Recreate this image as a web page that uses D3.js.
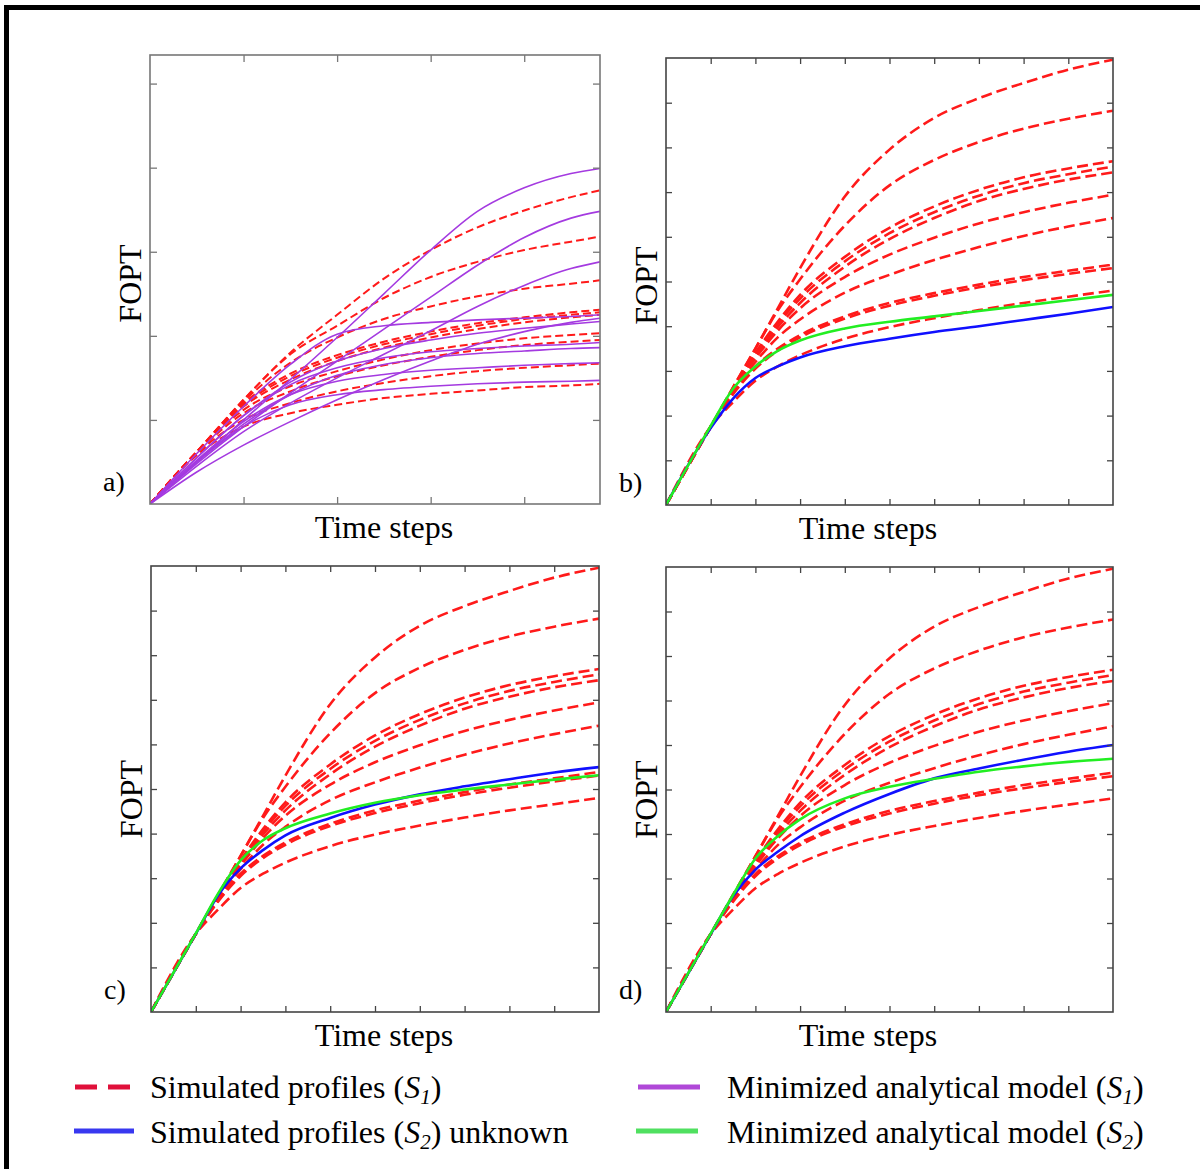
<!DOCTYPE html>
<html><head><meta charset="utf-8">
<script src="https://cdn.jsdelivr.net/npm/d3@7"></script>
<style>
body{margin:0;background:#fff}
svg{display:block}
text{font-family:"Liberation Serif","Times New Roman",serif;fill:#000}
</style>
</head><body>
<svg id="chart" width="1200" height="1169"></svg>
<script>
// ---------- DATA ----------
// Panel a: time samples (tick units) and FOPT values
const timeA = [0, 0.5, 1, 1.5, 2, 2.5, 3, 3.5, 4, 4.5, 4.81];
const simulatedA = [
  [0, 0.62, 1.24, 1.80, 2.25, 2.68, 3.02, 3.29, 3.49, 3.65, 3.73],
  [0, 0.62, 1.24, 1.78, 2.12, 2.45, 2.70, 2.88, 3.02, 3.12, 3.18],
  [0, 0.62, 1.22, 1.68, 1.98, 2.20, 2.35, 2.47, 2.56, 2.62, 2.66],
  [0, 0.62, 1.20, 1.55, 1.77, 1.93, 2.05, 2.15, 2.22, 2.28, 2.31],
  [0, 0.62, 1.18, 1.52, 1.74, 1.90, 2.02, 2.12, 2.20, 2.25, 2.28],
  [0, 0.62, 1.16, 1.48, 1.70, 1.86, 1.98, 2.08, 2.16, 2.22, 2.25],
  [0, 0.62, 1.12, 1.40, 1.58, 1.72, 1.83, 1.91, 1.97, 2.01, 2.03],
  [0, 0.61, 1.08, 1.34, 1.52, 1.65, 1.75, 1.83, 1.89, 1.93, 1.95],
  [0, 0.60, 1.00, 1.20, 1.34, 1.44, 1.52, 1.58, 1.62, 1.65, 1.67],
  [0, 0.58, 0.92, 1.08, 1.18, 1.26, 1.31, 1.35, 1.39, 1.41, 1.43]
];
const minimizedA = [
  [0, 0.50, 1.00, 1.48, 1.98, 2.50, 3.02, 3.48, 3.76, 3.93, 3.99],
  [0, 0.48, 0.92, 1.32, 1.70, 2.08, 2.46, 2.84, 3.17, 3.40, 3.48],
  [0, 0.45, 0.86, 1.20, 1.50, 1.78, 2.06, 2.35, 2.60, 2.80, 2.88],
  [0, 0.60, 1.16, 1.66, 2.02, 2.12, 2.16, 2.19, 2.21, 2.23, 2.25],
  [0, 0.38, 0.70, 0.98, 1.24, 1.48, 1.70, 1.90, 2.05, 2.16, 2.21],
  [0, 0.55, 1.05, 1.45, 1.70, 1.85, 1.95, 2.03, 2.09, 2.14, 2.17],
  [0, 0.55, 1.05, 1.42, 1.62, 1.74, 1.81, 1.85, 1.88, 1.90, 1.92],
  [0, 0.50, 0.95, 1.30, 1.53, 1.66, 1.74, 1.79, 1.82, 1.85, 1.86],
  [0, 0.52, 0.98, 1.30, 1.46, 1.54, 1.59, 1.62, 1.65, 1.67, 1.68],
  [0, 0.50, 0.92, 1.18, 1.30, 1.36, 1.40, 1.43, 1.45, 1.46, 1.47]
];
// Panels b, c, d: time samples and FOPT values
const timeS = [0, 1, 1.5, 2, 2.5, 3, 4, 5, 6, 7, 8, 9, 10];
const simulatedS1 = [
  [0, 1.75, 2.63, 3.50, 4.40, 5.30, 6.90, 7.95, 8.66, 9.10, 9.44, 9.74, 9.96],
  [0, 1.75, 2.63, 3.50, 4.35, 5.05, 6.25, 7.15, 7.72, 8.12, 8.42, 8.64, 8.82],
  [0, 1.75, 2.60, 3.40, 4.10, 4.70, 5.55, 6.20, 6.68, 7.05, 7.33, 7.53, 7.69],
  [0, 1.75, 2.60, 3.38, 4.05, 4.62, 5.45, 6.08, 6.55, 6.92, 7.20, 7.40, 7.57],
  [0, 1.75, 2.58, 3.33, 3.98, 4.52, 5.33, 5.95, 6.42, 6.80, 7.07, 7.28, 7.44],
  [0, 1.75, 2.57, 3.28, 3.90, 4.40, 5.10, 5.60, 5.98, 6.30, 6.55, 6.76, 6.94],
  [0, 1.75, 2.55, 3.20, 3.75, 4.15, 4.75, 5.15, 5.48, 5.77, 6.02, 6.23, 6.42],
  [0, 1.75, 2.50, 3.10, 3.50, 3.80, 4.22, 4.52, 4.74, 4.93, 5.10, 5.24, 5.38],
  [0, 1.75, 2.48, 3.05, 3.45, 3.75, 4.17, 4.46, 4.68, 4.87, 5.03, 5.17, 5.30],
  [0, 1.75, 2.30, 2.78, 3.10, 3.35, 3.72, 3.98, 4.18, 4.36, 4.52, 4.66, 4.80]
];
const unknownB = [0, 1.72, 2.38, 2.84, 3.10, 3.30, 3.55, 3.72, 3.87, 4.00, 4.14, 4.28, 4.43];
const modelB   = [0, 1.77, 2.60, 3.10, 3.45, 3.68, 3.95, 4.10, 4.22, 4.34, 4.46, 4.58, 4.70];
const unknownC = [0, 1.75, 2.62, 3.22, 3.63, 3.96, 4.35, 4.65, 4.88, 5.06, 5.22, 5.37, 5.49];
const modelC   = [0, 1.76, 2.66, 3.40, 3.85, 4.12, 4.45, 4.69, 4.86, 4.99, 5.10, 5.21, 5.31];
const unknownD = [0, 1.75, 2.60, 3.20, 3.60, 3.95, 4.48, 4.90, 5.25, 5.47, 5.67, 5.85, 6.00];
const modelD   = [0, 1.76, 2.63, 3.45, 3.95, 4.33, 4.80, 5.06, 5.24, 5.40, 5.52, 5.62, 5.69];
// tick values
const ticksAx = [1, 2, 3, 4];
const ticksAy = [1, 2, 3, 4, 5];
const ticksS  = [1, 2, 3, 4, 5, 6, 7, 8, 9];
const panelLetters = ["a)", "b)", "c)", "d)"];
const axisLabelX = "Time steps";
const axisLabelY = "FOPT";
const legendItems = ["Simulated profiles", "Minimized analytical model", "Simulated profiles", "Minimized analytical model"];

// ---------- DRAW ----------
const svg = d3.select("#chart");
svg.append("rect").attr("width",1200).attr("height",1169).attr("fill","#fff");
// outer frame (top & left visible)
svg.append("line").attr("x1",4).attr("x2",1200).attr("y1",7.5).attr("y2",7.5).attr("stroke","#000").attr("stroke-width",5);
svg.append("line").attr("x1",6.5).attr("x2",6.5).attr("y1",5).attr("y2",1169).attr("stroke","#000").attr("stroke-width",5);

const RED = "#ff1a1a", MAG = "#a43ae0", BLUE = "#1010ff", GREEN = "#22ee22";

function panel(cfg, idx) {
  const x = d3.scaleLinear().domain([0, cfg.xmax]).range([cfg.x0, cfg.x1]);
  const y = d3.scaleLinear().domain([0, cfg.ymax]).range([cfg.y1, cfg.y0]);
  const g = svg.append("g");
  const cid = "clip" + idx;
  svg.append("clipPath").attr("id", cid).append("rect")
    .attr("x", cfg.x0).attr("y", cfg.y0 - 1).attr("width", cfg.x1 - cfg.x0).attr("height", cfg.y1 - cfg.y0 + 1);
  const plot = g.append("g").attr("clip-path", `url(#${cid})`);
  const line = d3.line().x((d,i)=>x(cfg.t[i])).y(d=>y(d)).curve(d3.curveMonotoneX);
  cfg.series.forEach(s => {
    s.data.forEach(arr => {
      plot.append("path").attr("d", line(arr)).attr("fill","none")
        .attr("stroke", s.color).attr("stroke-width", s.width)
        .attr("stroke-dasharray", s.dash || null)
        .attr("stroke-linecap","butt").attr("stroke-linejoin","round");
    });
  });
  // ticks (inward on all sides)
  const ts = cfg.tickLen;
  const mk = (axis, tr) => {
    const a = g.append("g").attr("transform", tr).call(axis);
    a.select(".domain").remove();
    a.selectAll(".tick line").attr("stroke", cfg.frame).attr("stroke-width", 1.3);
  };
  mk(d3.axisBottom(x).tickValues(cfg.tx).tickSize(-ts).tickFormat(""), `translate(0,${cfg.y1})`);
  mk(d3.axisTop(x).tickValues(cfg.tx).tickSize(-ts).tickFormat(""), `translate(0,${cfg.y0})`);
  mk(d3.axisLeft(y).tickValues(cfg.ty).tickSize(-ts).tickFormat(""), `translate(${cfg.x0},0)`);
  mk(d3.axisRight(y).tickValues(cfg.ty).tickSize(-ts).tickFormat(""), `translate(${cfg.x1},0)`);
  g.append("rect").attr("x", cfg.x0).attr("y", cfg.y0).attr("width", cfg.x1-cfg.x0).attr("height", cfg.y1-cfg.y0)
    .attr("fill","none").attr("stroke", cfg.frame).attr("stroke-width", 1.6);
  // labels
  g.append("text").attr("x", cfg.labelX).attr("y", cfg.y1 + 34).attr("text-anchor","middle")
    .attr("font-size", 32).text(axisLabelX);
  g.append("text").attr("transform", `translate(${cfg.x0 - 9},${(cfg.y0+cfg.y1)/2 + cfg.fopOff}) rotate(-90)`)
    .attr("text-anchor","middle").attr("font-size", 32).text(axisLabelY);
  g.append("text").attr("x", cfg.x0 - 47).attr("y", cfg.y1 - 13).attr("font-size", 28).text(panelLetters[idx]);
}

const dashSim = "11,5";
panel({x0:150,x1:600,y0:55,y1:504,xmax:4.81,ymax:5.34,t:timeA,tx:ticksAx,ty:ticksAy,tickLen:7,frame:"#777",labelX:384,fopOff:4,
  series:[{data:simulatedA,color:RED,width:2,dash:"8,4"},{data:minimizedA,color:MAG,width:1.6}]}, 0);
panel({x0:666,x1:1113,y0:58,y1:505,xmax:10,ymax:10,t:timeS,tx:ticksS,ty:ticksS,tickLen:6,frame:"#444",labelX:868,fopOff:4,
  series:[{data:simulatedS1,color:RED,width:2.6,dash:dashSim},{data:[unknownB],color:BLUE,width:2.6},{data:[modelB],color:GREEN,width:2.6}]}, 1);
panel({x0:151,x1:599,y0:566,y1:1012,xmax:10,ymax:10,t:timeS,tx:ticksS,ty:ticksS,tickLen:6,frame:"#444",labelX:384,fopOff:10,
  series:[{data:simulatedS1,color:RED,width:2.6,dash:dashSim},{data:[unknownC],color:BLUE,width:2.6},{data:[modelC],color:GREEN,width:2.6}]}, 2);
panel({x0:666,x1:1113,y0:567,y1:1012,xmax:10,ymax:10,t:timeS,tx:ticksS,ty:ticksS,tickLen:6,frame:"#444",labelX:868,fopOff:10,
  series:[{data:simulatedS1,color:RED,width:2.6,dash:dashSim},{data:[unknownD],color:BLUE,width:2.6},{data:[modelD],color:GREEN,width:2.6}]}, 3);

// ---------- LEGEND ----------
const leg = svg.append("g");
function legendText(xp, yp, label, sub, tail) {
  const t = leg.append("text").attr("x", xp).attr("y", yp).attr("font-size", 32);
  t.append("tspan").text(label + " (");
  t.append("tspan").attr("font-style","italic").text("S");
  t.append("tspan").attr("font-style","italic").attr("font-size",21).attr("dy",6).text(sub);
  t.append("tspan").attr("dy",-6).text(")" + (tail || ""));
}
leg.append("line").attr("x1",75).attr("x2",130).attr("y1",1087).attr("y2",1087)
  .attr("stroke","#e0103a").attr("stroke-width",5).attr("stroke-dasharray","22,11");
legendText(150, 1098, legendItems[0], "1");
leg.append("line").attr("x1",638).attr("x2",700).attr("y1",1087).attr("y2",1087)
  .attr("stroke","#b048d8").attr("stroke-width",5);
legendText(727, 1098, legendItems[1], "1");
leg.append("line").attr("x1",74).attr("x2",134).attr("y1",1131).attr("y2",1131)
  .attr("stroke","#3838f0").attr("stroke-width",5);
legendText(150, 1143, legendItems[2], "2", " unknown");
leg.append("line").attr("x1",636).attr("x2",698).attr("y1",1131).attr("y2",1131)
  .attr("stroke","#50e060").attr("stroke-width",5);
legendText(727, 1143, legendItems[3], "2");
</script>
</body></html>
